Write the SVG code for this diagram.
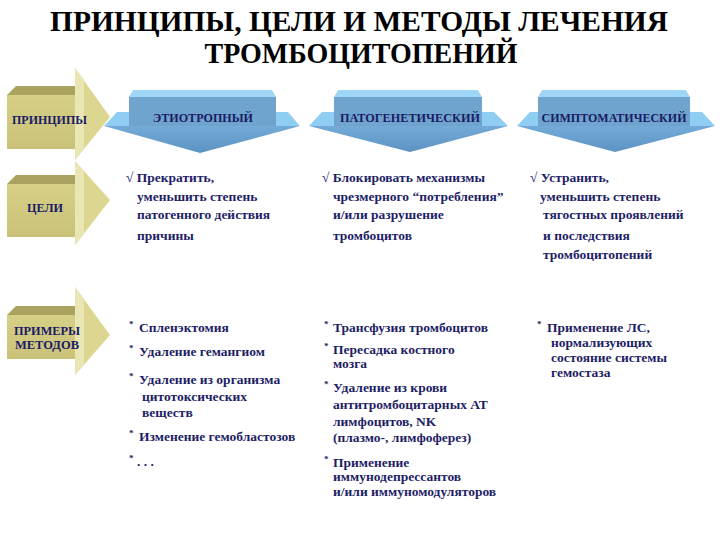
<svg xmlns="http://www.w3.org/2000/svg" width="720" height="540" viewBox="0 0 720 540" font-family="'Liberation Serif', 'DejaVu Serif', serif" font-weight="bold">
<defs>
<style>
.title{font-size:29px;fill:#000}
.lbl{font-size:13px;fill:#1b1b66}
.hd{font-size:12px;fill:#1b1b66}
.t{font-size:13.5px;fill:#1e1e66}
.b{font-size:9px;fill:#1e1e66}
.otop{fill:#aaa35f}
.ofront{fill:url(#og)}
.ohead{fill:#dcd690}
.ohl{fill:#e9e6b3}
.btop{fill:#9fd6f5}
.bfront{fill:#6ea4cd}
.bwing{fill:#8fcdf2}
.bhead{fill:url(#bg)}
</style>
<linearGradient id="og" x1="0" y1="0" x2="0" y2="1">
<stop offset="0" stop-color="#d6d086"/><stop offset="1" stop-color="#c9c278"/>
</linearGradient>
<linearGradient id="bg" x1="0" y1="0" x2="0" y2="1">
<stop offset="0" stop-color="#74aad8"/><stop offset="1" stop-color="#5d93c3"/>
</linearGradient>
</defs>
<rect width="720" height="540" fill="#fff"/>

<g id="title">
<text class="title" x="359" y="31" text-anchor="middle" textLength="618" lengthAdjust="spacingAndGlyphs">ПРИНЦИПЫ, ЦЕЛИ И МЕТОДЫ ЛЕЧЕНИЯ</text>
<text class="title" x="361" y="63" text-anchor="middle" textLength="313" lengthAdjust="spacingAndGlyphs">ТРОМБОЦИТОПЕНИЙ</text>
</g>

<g id="row-principles">
<polygon class="otop" points="7,95 16,86 80,86 75,95"/>
<rect class="ofront" x="7" y="95" width="68" height="54"/>
<polygon class="ohead" points="75,68 110,117 75,160"/>
<polygon class="ohl" points="75,68 84,80 84,148 75,160"/>
<text class="lbl" x="12" y="124" textLength="75" lengthAdjust="spacingAndGlyphs">ПРИНЦИПЫ</text>
</g>

<g id="row-goals">
<polygon class="otop" points="7,184 16,175 80,175 75,184"/>
<rect class="ofront" x="7" y="184" width="68" height="53"/>
<polygon class="ohead" points="75,161 110,200 75,245"/>
<polygon class="ohl" points="75,161 84,172 84,234 75,245"/>
<text class="lbl" x="27" y="212" textLength="36" lengthAdjust="spacingAndGlyphs">ЦЕЛИ</text>
</g>

<g id="row-methods">
<polygon class="otop" points="7,315 16,306 80,306 75,315"/>
<rect class="ofront" x="7" y="315" width="68" height="44"/>
<polygon class="ohead" points="75,287 110,335 75,375"/>
<polygon class="ohl" points="75,287 84,299 84,364 75,375"/>
<text class="lbl" x="14" y="335" textLength="66" lengthAdjust="spacingAndGlyphs">ПРИМЕРЫ</text>
<text class="lbl" x="15" y="349" textLength="64" lengthAdjust="spacingAndGlyphs">МЕТОДОВ</text>
</g>

<g id="principle-etiotropic">
<polygon class="btop" points="129,97 133,90 272,90 276,97"/>
<rect class="bfront" x="129" y="97" width="147" height="29"/>
<polygon class="bwing" points="104,126 117,112 129,112 129,126"/>
<polygon class="bwing" points="276,112 288,112 300,126 276,126"/>
<polygon class="bhead" points="104,126 300,126 200,153"/>
<text class="hd" x="203" y="122" text-anchor="middle" textLength="100" lengthAdjust="spacingAndGlyphs">ЭТИОТРОПНЫЙ</text>
</g>

<g id="principle-pathogenetic">
<polygon class="btop" points="334,97 338,90 478,90 482,97"/>
<rect class="bfront" x="334" y="97" width="148" height="29"/>
<polygon class="bwing" points="309,126 322,112 334,112 334,126"/>
<polygon class="bwing" points="482,112 494,112 508,126 482,126"/>
<polygon class="bhead" points="309,126 508,126 410,152"/>
<text class="hd" x="410" y="122" text-anchor="middle" textLength="140" lengthAdjust="spacingAndGlyphs">ПАТОГЕНЕТИЧЕСКИЙ</text>
</g>

<g id="principle-symptomatic">
<polygon class="btop" points="538,97 542,90 686,90 690,97"/>
<rect class="bfront" x="538" y="97" width="152" height="29"/>
<polygon class="bwing" points="517,126 530,112 538,112 538,126"/>
<polygon class="bwing" points="690,112 702,112 715,126 690,126"/>
<polygon class="bhead" points="517,126 715,126 615,152"/>
<text class="hd" x="614" y="122" text-anchor="middle" textLength="145" lengthAdjust="spacingAndGlyphs">СИМПТОМАТИЧЕСКИЙ</text>
</g>

<g id="goal-1">
<text class="t" x="126" y="182">√ Прекратить,</text>
<text class="t" x="137" y="201">уменьшить степень</text>
<text class="t" x="137" y="219">патогенного действия</text>
<text class="t" x="137" y="240">причины</text>
</g>

<g id="goal-2">
<text class="t" x="322" y="182">√ Блокировать механизмы</text>
<text class="t" x="333" y="201">чрезмерного “потребления”</text>
<text class="t" x="333" y="219">и/или разрушение</text>
<text class="t" x="333" y="240">тромбоцитов</text>
</g>

<g id="goal-3">
<text class="t" x="530" y="182">√ Устранить,</text>
<text class="t" x="540" y="201">уменьшить степень</text>
<text class="t" x="543" y="219">тягостных проявлений</text>
<text class="t" x="543" y="240">и последствия</text>
<text class="t" x="543" y="259">тромбоцитопений</text>
</g>

<g id="methods-1">
<text class="b" x="129" y="327">*</text><text class="t" x="139" y="332">Спленэктомия</text>
<text class="b" x="129" y="351">*</text><text class="t" x="139" y="356">Удаление гемангиом</text>
<text class="b" x="129" y="379">*</text><text class="t" x="139" y="384">Удаление из организма</text>
<text class="t" x="142" y="401">цитотоксических</text>
<text class="t" x="142" y="417">веществ</text>
<text class="b" x="129" y="436">*</text><text class="t" x="139" y="441">Изменение гемобластозов</text>
<text class="b" x="129" y="461">*</text><text class="t" x="137" y="466">. . .</text>
</g>

<g id="methods-2">
<text class="b" x="324" y="327">*</text><text class="t" x="333" y="332">Трансфузия тромбоцитов</text>
<text class="b" x="324" y="349">*</text><text class="t" x="333" y="354">Пересадка костного</text>
<text class="t" x="333" y="368">мозга</text>
<text class="b" x="324" y="387">*</text><text class="t" x="333" y="392">Удаление из крови</text>
<text class="t" x="333" y="409">антитромбоцитарных АТ</text>
<text class="t" x="333" y="426">лимфоцитов, NK</text>
<text class="t" x="333" y="442">(плазмо-, лимфоферез)</text>
<text class="b" x="324" y="462">*</text><text class="t" x="333" y="467">Применение</text>
<text class="t" x="333" y="481">иммунодепрессантов</text>
<text class="t" x="333" y="496">и/или иммуномодуляторов</text>
</g>

<g id="methods-3">
<text class="b" x="537" y="327">*</text><text class="t" x="547" y="332">Применение ЛС,</text>
<text class="t" x="551" y="347">нормализующих</text>
<text class="t" x="551" y="362">состояние системы</text>
<text class="t" x="551" y="377">гемостаза</text>
</g>
</svg>
